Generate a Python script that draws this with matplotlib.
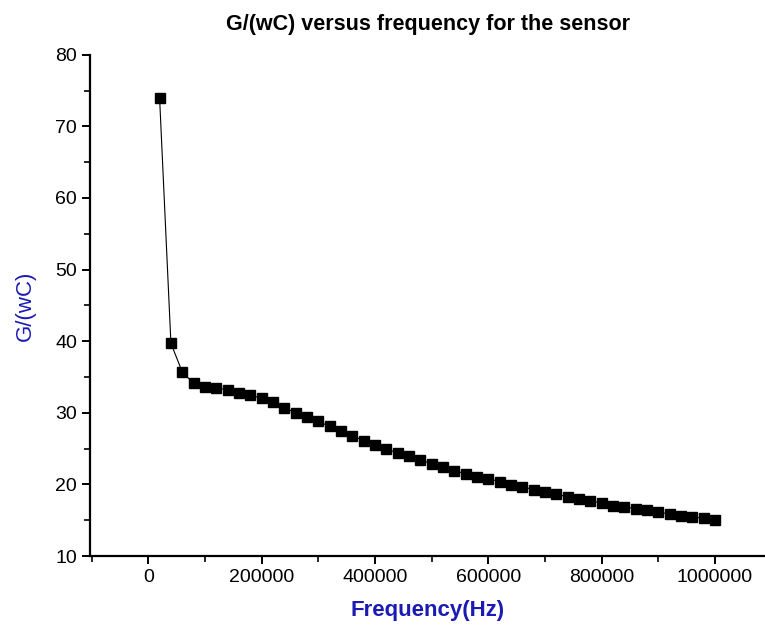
import numpy as np
import matplotlib.pyplot as plt
from matplotlib.ticker import MultipleLocator, FormatStrFormatter

# frequency points (Hz) and measured G/(wC)
freq = [20000, 40000, 60000, 80000, 100000, 120000, 140000, 160000, 180000, 200000,
        220000, 240000, 260000, 280000, 300000, 320000, 340000, 360000, 380000, 400000,
        420000, 440000, 460000, 480000, 500000, 520000, 540000, 560000, 580000, 600000,
        620000, 640000, 660000, 680000, 700000, 720000, 740000, 760000, 780000, 800000,
        820000, 840000, 860000, 880000, 900000, 920000, 940000, 960000, 980000, 1000000]
g_wc = [74.0, 39.7, 35.7, 34.1, 33.6, 33.5, 33.2, 32.8, 32.5, 32.0,
        31.5, 30.7, 30.0, 29.4, 28.8, 28.1, 27.4, 26.8, 26.1, 25.5,
        25.0, 24.35, 23.9, 23.4, 22.9, 22.4, 21.9, 21.5, 21.1, 20.8,
        20.4, 19.95, 19.7, 19.25, 18.9, 18.6, 18.3, 18.0, 17.7, 17.4,
        17.05, 16.9, 16.6, 16.4, 16.1, 15.9, 15.65, 15.4, 15.3, 15.0]

plt.rcParams['font.family'] = ['Liberation Sans', 'DejaVu Sans']

fig = plt.figure(figsize=(7.65, 6.29), dpi=100)
ax = fig.add_axes([0.118, 0.116, 0.882, 0.797])

ax.plot(freq, g_wc, color='black', linewidth=0.8, marker='s', markersize=7.5,
        markerfacecolor='black', markeredgecolor='black')

ax.set_xlim(-102300, 1088200)
ax.set_ylim(10, 80)
ax.xaxis.set_major_locator(MultipleLocator(200000))
ax.xaxis.set_minor_locator(MultipleLocator(100000))
ax.xaxis.set_major_formatter(FormatStrFormatter('%d'))
ax.yaxis.set_major_locator(MultipleLocator(10))
ax.yaxis.set_minor_locator(MultipleLocator(5))

ax.spines['top'].set_visible(False)
ax.spines['right'].set_visible(False)
ax.spines['left'].set_linewidth(1.6)
ax.spines['bottom'].set_linewidth(1.6)
ax.tick_params(which='major', length=6, width=1.4, labelsize=14, direction='out')
ax.tick_params(which='minor', length=4, width=1.2, direction='out')

ax.set_title('G/(wC) versus frequency for the sensor', fontsize=15.5, fontweight='bold', pad=18)
ax.set_xlabel('Frequency(Hz)', fontsize=16, fontweight='bold', color='#1a1ab4', labelpad=10)
ax.set_ylabel('G/(wC)', fontsize=16, color='#1a1ab4', labelpad=14)

fig.savefig('out.png', dpi=100)
